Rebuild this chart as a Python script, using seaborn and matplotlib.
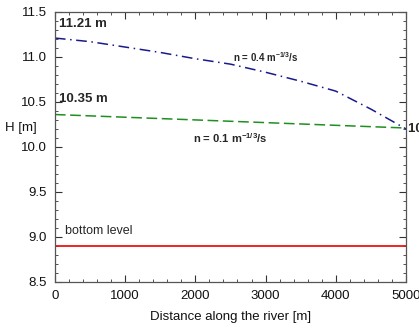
import matplotlib
matplotlib.use("Agg")
import matplotlib.pyplot as plt
from matplotlib.ticker import MultipleLocator
import seaborn as sns
import pandas as pd

distance = [0, 500, 1000, 1500, 2000, 2500, 3000, 3500, 4000, 4500, 5000]
h_n04 = [11.21, 11.17, 11.11, 11.05, 10.98, 10.92, 10.83, 10.73, 10.62, 10.42, 10.20]
h_n01 = [10.36, 10.345, 10.33, 10.315, 10.30, 10.285, 10.27, 10.255, 10.24, 10.225, 10.21]
bottom = [8.9] * len(distance)

sns.set_style("ticks")
plt.rcParams['font.family'] = ['Liberation Sans', 'DejaVu Sans']

fig = plt.figure(figsize=(4.19, 3.32), dpi=100)
ax = fig.add_axes([0.131, 0.151, 0.838, 0.813])

df = pd.DataFrame({"x": distance, "a": h_n04, "b": h_n01, "c": bottom})
sns.lineplot(data=df, x="x", y="a", ax=ax, color="#1a1a8c", lw=1.1,
             linestyle=(0, (7, 3, 1, 3)))
sns.lineplot(data=df, x="x", y="b", ax=ax, color="#1f8f1f", lw=1.1,
             linestyle=(0, (7, 3)))
sns.lineplot(data=df, x="x", y="c", ax=ax, color="#ee1111", lw=1.3)

ax.set_xlim(0, 5000)
ax.set_ylim(8.5, 11.5)
ax.xaxis.set_major_locator(MultipleLocator(1000))
ax.xaxis.set_minor_locator(MultipleLocator(200))
ax.yaxis.set_major_locator(MultipleLocator(0.5))
ax.yaxis.set_minor_locator(MultipleLocator(0.1))
ax.yaxis.set_major_formatter(matplotlib.ticker.FormatStrFormatter('%.1f'))
ax.tick_params(which='both', direction='in', top=True, right=True, colors='#333333',
               labelcolor='#111111', labelsize=9.5)
ax.tick_params(which='major', length=5, pad=6)
ax.tick_params(which='minor', length=2.5)
for s in ax.spines.values():
    s.set_color('#555555')
    s.set_linewidth(0.9)

ax.set_xlabel("Distance along the river [m]", fontsize=9.5, color='#111111', labelpad=6)
ax.set_ylabel("H [m]", fontsize=9.5, rotation=0, color='#111111', labelpad=0,
              va='center', ha='center')
ax.yaxis.set_label_coords(-0.097, 0.57)

ax.text(60, 11.33, "11.21 m", fontsize=9.5, fontweight='bold')
ax.text(60, 10.5, "10.35 m", fontsize=9.5, fontweight='bold')
ax.text(5030, 10.2, "10.2 m", fontsize=9.5, fontweight='bold', va='center', clip_on=False)
ax.text(2530, 11.0, r"n = 0.4 m$^{\mathregular{-1/3}}$/s", fontsize=7, fontweight='bold', va='center')
ax.text(1960, 10.1, r"n = 0.1 m$^{\mathregular{-1/3}}$/s", fontsize=8, fontweight='bold', va='center')
ax.text(140, 9.0, "bottom level", fontsize=9, va='bottom')

fig.savefig("out.png", dpi=100)
